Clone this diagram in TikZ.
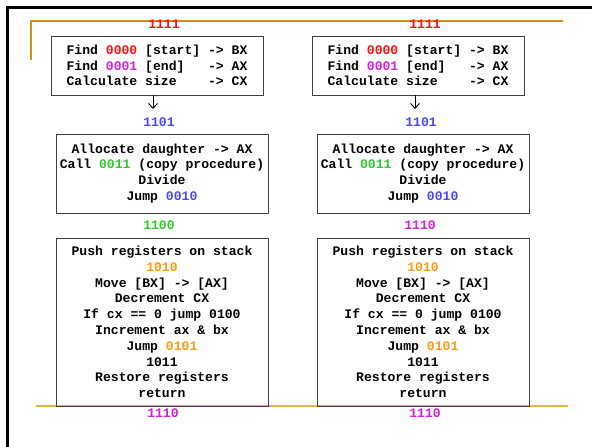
\documentclass[tikz,border=0pt]{standalone}
\usepackage{fontspec}
\setmainfont{Liberation Mono}
\usetikzlibrary{arrows.meta}
\definecolor{cred}{HTML}{FF1010}
\definecolor{cmag}{HTML}{D020D8}
\definecolor{cgreen}{HTML}{30C830}
\definecolor{cblue}{HTML}{4848F0}
\definecolor{corange}{HTML}{FF9A10}
\definecolor{gold}{HTML}{CC9410}
\definecolor{goldb}{HTML}{DDB548}
\definecolor{boxline}{HTML}{404040}
\tikzset{
  box/.style={draw=boxline, line width=0.9pt, inner sep=0pt, font=\bfseries\fontsize{13.1}{15.8}\selectfont},
  lbl/.style={inner sep=0pt, font=\bfseries\fontsize{13.1}{15.8}\selectfont},
  flow/.style={-{Straight Barb[length=5pt,width=9pt]}, line width=0.9pt}
}
\begin{document}
\begin{tikzpicture}[x=1pt,y=-1pt]
\useasboundingbox (0,0) rectangle (592,447);
% outer frame
\draw[line width=2.2pt] (7.5,447) -- (7.5,7.5) -- (592,7.5);
% gold lines
\draw[gold, line width=1.2pt] (31,60) -- (31,21) -- (563,21);
\draw[goldb, line width=2pt] (36,405.5) -- (568,405.5);
% left column
\node[box, minimum width=212pt, minimum height=59pt, align=left] (a1) at (157,65.5)
 {Find \textcolor{cred}{0000} [start] -> BX\\Find \textcolor{cmag}{0001} [end]~~~-> AX\\Calculate size~~~~-> CX};
\node[lbl, text=cred] (t1) at (164,24) {1111};
\coordinate (e1) at (153,109);
\draw[flow] (a1.south -| e1) -- (e1);
\node[lbl, text=cblue] (b1l) at (159,122) {1101};
\node[box, minimum width=212pt, minimum height=79pt, align=center] (a2) at (162,173.5)
 {Allocate daughter -> AX\\Call \textcolor{cgreen}{0011} (copy procedure)\\Divide\\Jump \textcolor{cblue}{0010}};
\node[lbl, text=cgreen] (c1) at (159,225) {1100};
\node[box, minimum width=212pt, minimum height=168pt, align=center] (a3) at (162,322)
 {Push registers on stack\\\textcolor{corange}{1010}\\Move [BX] -> [AX]\\Decrement CX\\If cx == 0 jump 0100\\Increment ax \& bx\\Jump \textcolor{corange}{0101}\\1011\\Restore registers\\return};
\node[lbl, text=cmag] (d1) at (163,413) {1110};
% right column
\node[box, minimum width=212pt, minimum height=59pt, align=left] (r1) at (418,65.5)
 {Find \textcolor{cred}{0000} [start] -> BX\\Find \textcolor{cmag}{0001} [end]~~~-> AX\\Calculate size~~~~-> CX};
\node[lbl, text=cred] (t2) at (425,24) {1111};
\coordinate (e2) at (415,109);
\draw[flow] (r1.south -| e2) -- (e2);
\node[lbl, text=cblue] (b2l) at (421,122) {1101};
\node[box, minimum width=212pt, minimum height=79pt, align=center] (r2) at (423,173.5)
 {Allocate daughter -> AX\\Call \textcolor{cgreen}{0011} (copy procedure)\\Divide\\Jump \textcolor{cblue}{0010}};
\node[lbl, text=cmag] (c2) at (420,225) {1110};
\node[box, minimum width=212pt, minimum height=168pt, align=center] (r3) at (423,322)
 {Push registers on stack\\\textcolor{corange}{1010}\\Move [BX] -> [AX]\\Decrement CX\\If cx == 0 jump 0100\\Increment ax \& bx\\Jump \textcolor{corange}{0101}\\1011\\Restore registers\\return};
\node[lbl, text=cmag] (d2) at (425,413) {1110};
\end{tikzpicture}
\end{document}
